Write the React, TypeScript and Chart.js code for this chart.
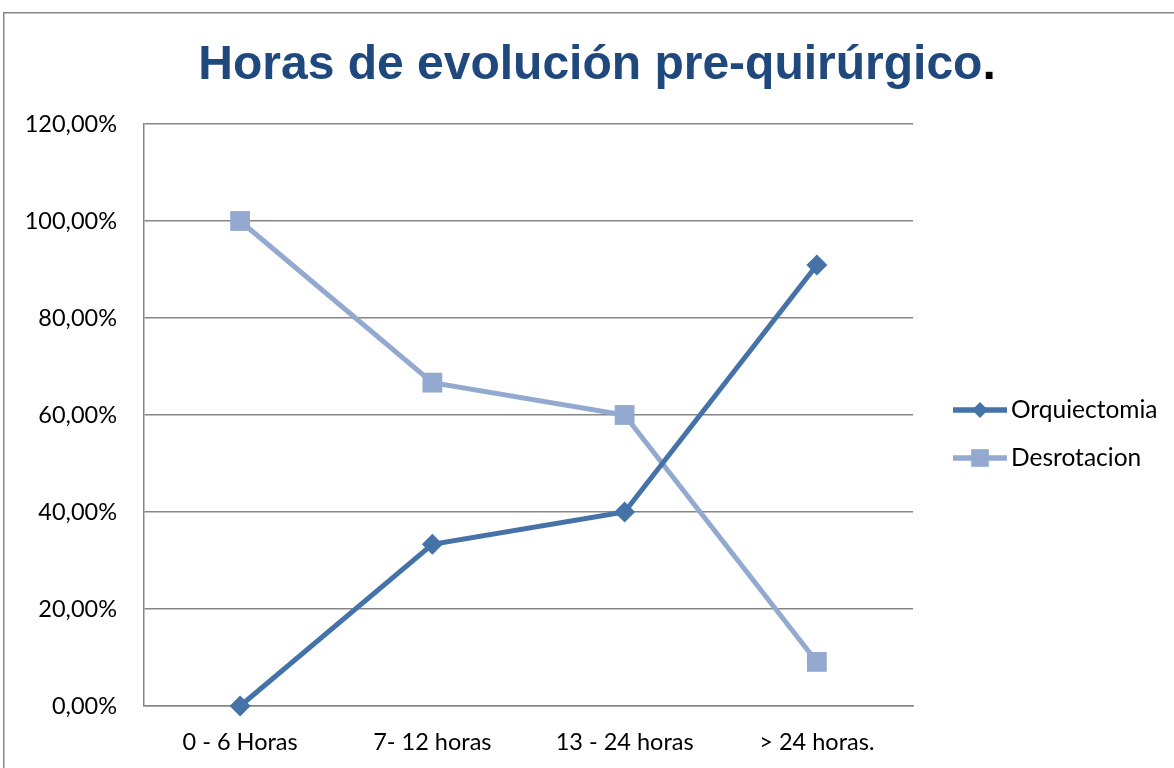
import React, { useEffect, useRef } from 'react';
import { Chart, registerables } from 'chart.js';

Chart.register(...registerables);

const categories = ['0 - 6 Horas', '7- 12 horas', '13 - 24 horas', '> 24 horas.'];
const orquiectomia = [0, 33.33, 40, 90.91];
const desrotacion = [100, 66.67, 60, 9.09];
const seriesNames = ['Orquiectomia', 'Desrotacion'];
const yMin = 0;
const yMax = 120;
const yStep = 20;

const TITLE_MAIN = 'Horas de evolución pre-quirúrgico';
const TITLE_END = '.';
const FONT = 'Lato, Carlito, "Open Sans", sans-serif';
const GRID = '#868686';
const C1 = '#4572A7';
const C2 = '#93A9CF';

const fmt = (v: number) => v.toFixed(2).replace('.', ',') + '%';

const framePlugin = {
  id: 'frameTitle',
  beforeDraw(chart: any) {
    const ctx = chart.ctx as CanvasRenderingContext2D;
    ctx.save();
    ctx.fillStyle = '#ffffff';
    ctx.fillRect(0, 0, chart.width, chart.height);
    ctx.strokeStyle = GRID;
    ctx.lineWidth = 1.5;
    ctx.strokeRect(3.75, 12.75, chart.width + 20, chart.height + 20);
    ctx.font = 'bold 48px "Liberation Sans", Arial, sans-serif';
    ctx.textBaseline = 'alphabetic';
    ctx.textAlign = 'left';
    const w1 = ctx.measureText(TITLE_MAIN).width;
    const w2 = ctx.measureText(TITLE_END).width;
    const cx = chart.width / 2 + 10;
    const x0 = cx - (w1 + w2) / 2;
    ctx.fillStyle = '#1F497D';
    ctx.fillText(TITLE_MAIN, x0, 79);
    ctx.fillStyle = '#000000';
    ctx.fillText(TITLE_END, x0 + w1, 79);
    ctx.restore();
  },
};

function drawMarker(ctx: CanvasRenderingContext2D, style: string, x: number, y: number, r: number, color: string) {
  ctx.fillStyle = color;
  ctx.beginPath();
  if (style === 'rectRot') {
    ctx.moveTo(x - r, y);
    ctx.lineTo(x, y - r);
    ctx.lineTo(x + r, y);
    ctx.lineTo(x, y + r);
    ctx.closePath();
  } else {
    const s = r * Math.SQRT1_2;
    ctx.rect(x - s, y - s, 2 * s, 2 * s);
  }
  ctx.fill();
}

const legendPlugin = {
  id: 'lineLegend',
  afterDraw(chart: any) {
    const ctx = chart.ctx as CanvasRenderingContext2D;
    const area = chart.chartArea;
    ctx.save();
    chart.data.datasets.forEach((ds: any, i: number) => {
      const y = area.top + 286 + i * 48;
      const x0 = area.right + 40;
      const x1 = x0 + 54;
      ctx.strokeStyle = ds.borderColor;
      ctx.lineWidth = 5.5;
      ctx.beginPath();
      ctx.moveTo(x0, y);
      ctx.lineTo(x1, y);
      ctx.stroke();
      drawMarker(ctx, ds.pointStyle, (x0 + x1) / 2, y, ds.pointStyle === 'rectRot' ? 8 : 12.5, ds.borderColor);
      ctx.fillStyle = '#000000';
      ctx.font = '24.5px ' + FONT;
      ctx.textBaseline = 'middle';
      ctx.textAlign = 'left';
      ctx.fillText(ds.label, x1 + 4, y);
    });
    ctx.restore();
  },
};

export default function App() {
  const ref = useRef<HTMLCanvasElement>(null);
  useEffect(() => {
    if (!ref.current) return;
    const chart = new Chart(ref.current, {
      type: 'line',
      data: {
        labels: categories,
        datasets: [
          {
            label: seriesNames[0],
            data: orquiectomia,
            borderColor: C1,
            backgroundColor: C1,
            borderWidth: 5,
            pointStyle: 'rectRot',
            pointRadius: 10.5,
            pointHoverRadius: 10.5,
            pointBorderWidth: 0,
            tension: 0,
            clip: false,
          },
          {
            label: seriesNames[1],
            data: desrotacion,
            borderColor: C2,
            backgroundColor: C2,
            borderWidth: 5,
            pointStyle: 'rect',
            pointRadius: 14,
            pointHoverRadius: 14,
            pointBorderWidth: 0,
            tension: 0,
            clip: false,
          },
        ],
      },
      options: {
        animation: false,
        responsive: false,
        devicePixelRatio: 1,
        layout: { padding: { left: 0, top: 124, right: 261, bottom: 0 } },
        plugins: {
          legend: { display: false },
          title: { display: false },
          tooltip: { enabled: false },
        },
        scales: {
          x: {
            type: 'category',
            offset: true,
            grid: { display: false, drawTicks: false },
            border: { display: true, color: GRID, width: 1.5 },
            ticks: { color: '#000', font: { family: FONT, size: 23.5 }, padding: 22, maxRotation: 0, autoSkip: false },
            afterFit: (axis: any) => { axis.height = 62; },
          },
          y: {
            min: yMin,
            max: yMax,
            grid: { color: GRID, lineWidth: 1.5, drawTicks: false },
            border: { display: true, color: GRID, width: 1.5 },
            ticks: {
              stepSize: yStep,
              color: '#000',
              font: { family: FONT, size: 23.5 },
              padding: 27,
              callback: (v: any) => fmt(Number(v)),
            },
            afterFit: (axis: any) => { axis.width = 144; },
          },
        },
      },
      plugins: [framePlugin, legendPlugin],
    });
    return () => chart.destroy();
  }, []);
  return (
    <div style={{ position: 'fixed', left: 0, top: 0, width: 1174, height: 768 }}>
      <canvas ref={ref} width={1174} height={768} style={{ display: 'block', width: 1174, height: 768 }} />
    </div>
  );
}
